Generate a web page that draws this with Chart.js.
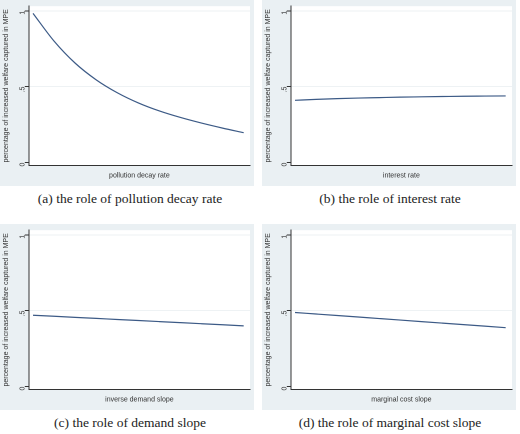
<!DOCTYPE html><html><head><script src="https://cdn.jsdelivr.net/npm/chart.js@4"></script>
<style>body{margin:0;background:#fff;width:520px;height:434px;position:relative;overflow:hidden}
.p{position:absolute;width:254px;height:186px;background:#eaf0f3}
.c{position:absolute;width:260px;text-align:center;font-family:"Liberation Serif",serif;font-size:13.5px;color:#222}
</style></head><body>
<div class="p" style="left:0;top:0"><canvas id="a"></canvas></div>
<div class="p" style="left:262px;top:0"><canvas id="b"></canvas></div>
<div class="p" style="left:0;top:224px"><canvas id="c"></canvas></div>
<div class="p" style="left:262px;top:224px"><canvas id="d"></canvas></div>
<div class="c" style="left:0;top:191px">(a) the role of pollution decay rate</div>
<div class="c" style="left:260px;top:191px">(b) the role of interest rate</div>
<div class="c" style="left:0;top:415px">(c) the role of demand slope</div>
<div class="c" style="left:260px;top:415px">(d) the role of marginal cost slope</div>
<script>
const xs=[0,0.1,0.2,0.3,0.4,0.5,0.6,0.7,0.8,0.9,1];
const decayVals=[0.983,0.80,0.655,0.545,0.46,0.393,0.34,0.297,0.26,0.227,0.197];
const interestVals=[0.410,0.416,0.421,0.425,0.428,0.431,0.433,0.435,0.437,0.438,0.439];
const demandVals=[0.470,0.463,0.456,0.449,0.442,0.435,0.428,0.421,0.414,0.407,0.400];
const costVals=[0.488,0.478,0.468,0.458,0.448,0.438,0.428,0.418,0.408,0.398,0.388];
const yTicks=[0,0.5,1];
const yTitle="percentage of increased welfare captured in MPE";
const bgPlugin={id:'bg',beforeDraw(ch){const a=ch.chartArea,x=ch.ctx;x.save();x.fillStyle='#fff';x.fillRect(a.left,a.top,a.right-a.left,a.bottom-a.top);x.restore();}};
function mk(id,vals,xl){
 new Chart(document.getElementById(id),{type:'line',
  data:{datasets:[{data:xs.map((x,i)=>({x,y:vals[i]})),borderColor:'#3c5a86',borderWidth:1.2,pointRadius:0,cubicInterpolationMode:'monotone',fill:false}]},
  options:{responsive:false,animation:false,devicePixelRatio:2,
   layout:{padding:{top:6,right:4,bottom:2,left:0}},
   plugins:{legend:{display:false},tooltip:{enabled:false}},
   scales:{
    x:{type:'linear',min:-0.02,max:1.03,grid:{display:false,drawTicks:false},border:{color:'#333'},ticks:{display:false},
       title:{display:true,text:xl,font:{family:'Liberation Sans',size:7},color:'#333',padding:{top:6,bottom:4}}},
    y:{min:-0.02,max:1.03,afterBuildTicks(ax){ax.ticks=yTicks.map(v=>({value:v}));},
       grid:{color:ctx=>ctx.tick&&ctx.tick.value===0?'rgba(0,0,0,0)':'#eef2f4',drawTicks:true,tickLength:4,tickColor:'#333',lineWidth:1},
       border:{color:'#333'},
       ticks:{font:{family:'Liberation Sans',size:7},color:'#333',padding:2,minRotation:90,maxRotation:90,callback:v=>v===0?'0':v===1?'1':'.5'},
       title:{display:true,text:yTitle,font:{family:'Liberation Sans',size:7},color:'#333',padding:{top:2,bottom:2}}}}}
 ,plugins:[bgPlugin]});
}
for(const id of ['a','b','c','d']){const c=document.getElementById(id);c.width=254;c.height=186;c.style.width='254px';c.style.height='186px';}
mk('a',decayVals,'pollution decay rate');
mk('b',interestVals,'interest rate');
mk('c',demandVals,'inverse demand slope');
mk('d',costVals,'marginal cost slope');
</script></body></html>
